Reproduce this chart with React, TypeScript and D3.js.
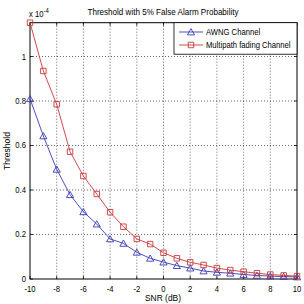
import React, { useRef, useEffect } from 'react'
import * as d3 from 'd3'

const snr = [-10, -9, -8, -7, -6, -5, -4, -3, -2, -1, 0, 1, 2, 3, 4, 5, 6, 7, 8, 9, 10]
const awgn = [0.81, 0.643, 0.493, 0.379, 0.302, 0.247, 0.18, 0.16, 0.12, 0.093, 0.076, 0.06, 0.049, 0.036, 0.03, 0.026, 0.02, 0.016, 0.013, 0.011, 0.009]
const multipath = [1.152, 0.935, 0.785, 0.572, 0.463, 0.382, 0.3, 0.235, 0.18, 0.157, 0.118, 0.093, 0.075, 0.063, 0.049, 0.04, 0.033, 0.026, 0.02, 0.016, 0.013]
const xTicks = [-10, -8, -6, -4, -2, 0, 2, 4, 6, 8, 10]
const yTicks = [0, 0.2, 0.4, 0.6, 0.8, 1]
const seriesNames = ['AWNG Channel', 'Multipath fading Channel']
const seriesColors = ['#3a3ab8', '#cc3838']

const W = 304
const H = 304
const left = 30
const right = 297
const top = 22.7
const bottom = 279
const font = 'Liberation Sans, Arial, sans-serif'

const App = () => {
    const svgRef = useRef<SVGSVGElement>(null)

    useEffect(() => {
        const svg = d3.select(svgRef.current)
        svg.selectAll('*').remove()

        const x = d3.scaleLinear().domain([-10, 10]).range([left, right])
        const y = d3.scaleLinear().domain([0, 1.152]).range([bottom, top])

        // grid
        const grid = svg.append('g').attr('stroke', '#000').attr('stroke-width', 0.6).attr('stroke-dasharray', '1,2')
        grid.selectAll('.vg').data(xTicks.slice(1, -1)).join('line')
            .attr('x1', d => x(d)).attr('x2', d => x(d)).attr('y1', top).attr('y2', bottom)
        grid.selectAll('.hg').data(yTicks.slice(1)).join('line')
            .attr('x1', left).attr('x2', right).attr('y1', d => y(d)).attr('y2', d => y(d))

        // box + ticks
        svg.append('rect').attr('x', left).attr('y', top).attr('width', right - left).attr('height', bottom - top)
            .attr('fill', 'none').attr('stroke', '#000').attr('stroke-width', 1)
        const tk = svg.append('g').attr('stroke', '#000').attr('stroke-width', 0.8)
        xTicks.forEach(t => {
            tk.append('line').attr('x1', x(t)).attr('x2', x(t)).attr('y1', bottom).attr('y2', bottom - 3)
            tk.append('line').attr('x1', x(t)).attr('x2', x(t)).attr('y1', top).attr('y2', top + 3)
        })
        yTicks.forEach(t => {
            tk.append('line').attr('x1', left).attr('x2', left + 3).attr('y1', y(t)).attr('y2', y(t))
            tk.append('line').attr('x1', right).attr('x2', right - 3).attr('y1', y(t)).attr('y2', y(t))
        })

        // tick labels
        svg.selectAll('.xl').data(xTicks).join('text')
            .attr('x', d => x(d)).attr('y', bottom + 13)
            .attr('text-anchor', 'middle').attr('font-size', 9).attr('font-family', font)
            .attr('transform', d => `translate(${x(d)},0) scale(0.85,1) translate(${-x(d)},0)`)
            .text(d => d)
        svg.selectAll('.yl').data(yTicks).join('text')
            .attr('x', left - 4).attr('y', d => y(d) + 3)
            .attr('text-anchor', 'end').attr('font-size', 9).attr('font-family', font)
            .attr('transform', `translate(${left - 4},0) scale(0.85,1) translate(${-(left - 4)},0)`)
            .text(d => d)

        // exponent
        const ex = svg.append('text').attr('x', 29).attr('y', 17).attr('font-size', 9).attr('font-family', font)
            .attr('transform', 'translate(29,0) scale(0.85,1) translate(-29,0)')
        ex.append('tspan').text('x 10')
        ex.append('tspan').attr('dy', -4).attr('font-size', 7).text('-4')

        // title and axis labels
        svg.append('text').attr('x', 163).attr('y', 15).attr('text-anchor', 'middle')
            .attr('font-size', 9).attr('font-family', font).attr('textLength', 151).attr('lengthAdjust', 'spacingAndGlyphs')
            .text('Threshold with 5% False Alarm Probability')
        svg.append('text').attr('x', 163).attr('y', 301).attr('text-anchor', 'middle')
            .attr('font-size', 9).attr('font-family', font).attr('textLength', 36).attr('lengthAdjust', 'spacingAndGlyphs')
            .text('SNR (dB)')
        svg.append('text').attr('transform', 'translate(10,151) rotate(-90)').attr('text-anchor', 'middle')
            .attr('font-size', 9).attr('font-family', font).attr('textLength', 38).attr('lengthAdjust', 'spacingAndGlyphs')
            .text('Threshold')

        const line = d3.line<number>().x((d, i) => x(snr[i])).y(d => y(d))
        const tri = d3.symbol().type(d3.symbolTriangle).size(22)
        const sq = d3.symbol().type(d3.symbolSquare).size(30)

        ;[awgn, multipath].forEach((vals, si) => {
            const c = seriesColors[si]
            svg.append('path').datum(vals).attr('d', line).attr('fill', 'none').attr('stroke', c).attr('stroke-width', 0.9)
            svg.selectAll(`.m${si}`).data(vals).join('path')
                .attr('transform', (d, i) => `translate(${x(snr[i])},${y(d) + (si === 0 ? 0.8 : 0)})`)
                .attr('d', si === 0 ? tri : sq)
                .attr('fill', 'none').attr('stroke', c).attr('stroke-width', 0.9)
        })

        // legend
        const lg = svg.append('g')
        lg.append('rect').attr('x', 174).attr('y', top).attr('width', right - 174).attr('height', 31.5)
            .attr('fill', '#fff').attr('stroke', '#000').attr('stroke-width', 0.8)
        seriesNames.forEach((name, i) => {
            const ly = 32 + i * 13
            lg.append('line').attr('x1', 179).attr('x2', 203).attr('y1', ly).attr('y2', ly)
                .attr('stroke', seriesColors[i]).attr('stroke-width', 0.9)
            lg.append('path').attr('transform', `translate(191,${ly + (i === 0 ? 0.8 : 0)})`).attr('d', i === 0 ? tri : sq)
                .attr('fill', 'none').attr('stroke', seriesColors[i]).attr('stroke-width', 0.9)
            lg.append('text').attr('x', 206).attr('y', ly + 3).attr('font-size', 8.5).attr('font-family', font)
                .attr('transform', 'translate(206,0) scale(0.9,1) translate(-206,0)')
                .text(name)
        })
    }, [])

    return (
        <svg ref={svgRef} width={W} height={H}
            style={{ position: 'absolute', left: 0, top: 0, background: 'white' }} />
    )
}

export default App
